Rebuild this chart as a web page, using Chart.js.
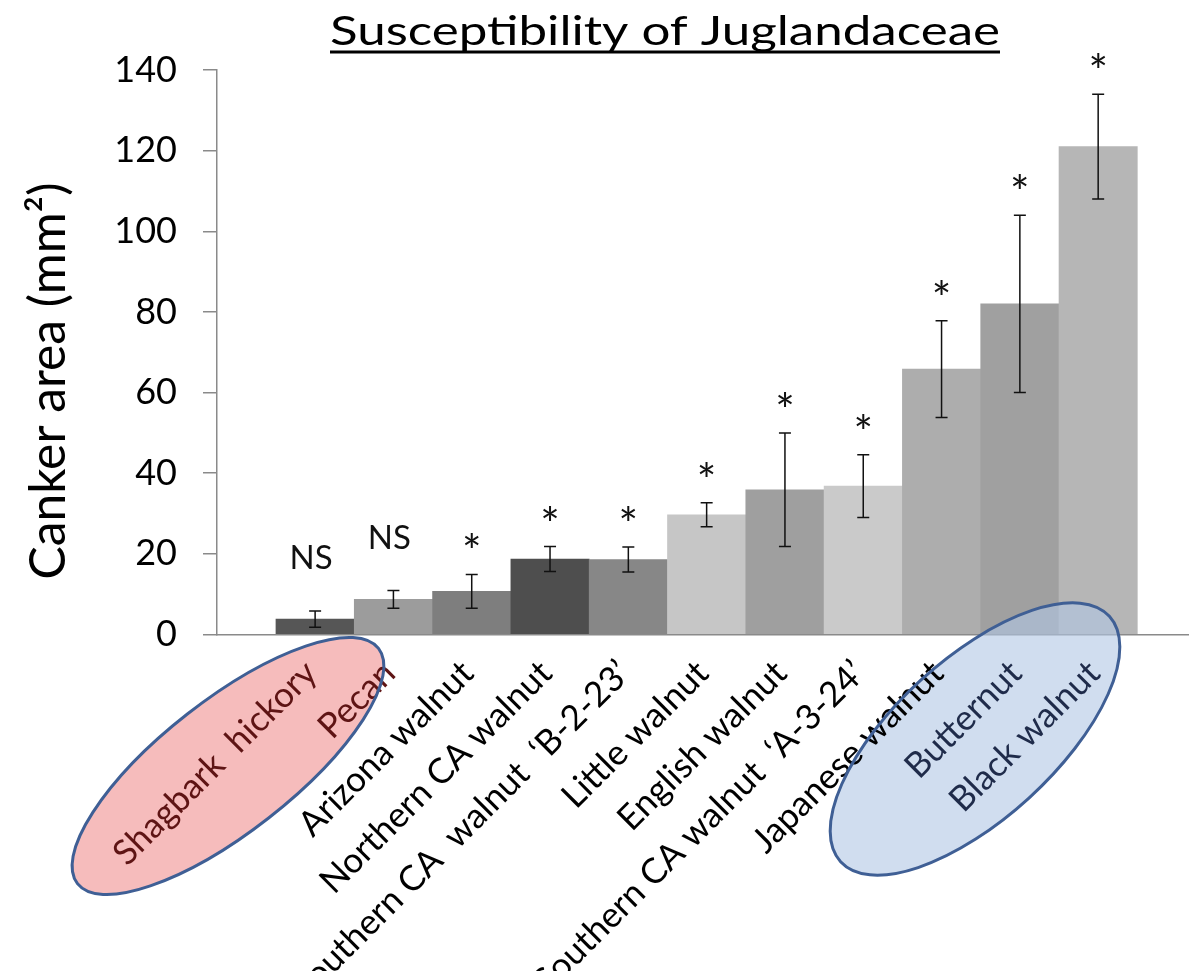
<!DOCTYPE html>
<html>
<head>
<meta charset="utf-8">
<title>Susceptibility of Juglandaceae</title>
<script src="https://cdn.jsdelivr.net/npm/chart.js@4.4.1/dist/chart.umd.min.js"></script>
<style>
  html, body { margin: 0; padding: 0; background: #fff; }
  #wrap { width: 1189px; height: 971px; position: relative; }
</style>
</head>
<body>
<div id="wrap"><canvas id="cankerChart"></canvas></div>
<script>
// species on the x axis
const species = ['Shagbark  hickory', 'Pecan', 'Arizona walnut', 'Northern CA walnut',
  'Southern CA  walnut  \u2018B-2-23\u2019', 'Little walnut', 'English walnut',
  'Southern CA walnut  \u2018A-3-24\u2019', 'Japanese walnut', 'Butternut', 'Black walnut'];
// mean canker area (mm2) and error bar half length
const cankerArea = [3.8, 8.7, 10.7, 18.7, 18.6, 29.7, 35.9, 36.8, 65.8, 82.0, 121.0];
const cankerErr = [2.0, 2.2, 4.2, 3.1, 3.1, 3.0, 14.1, 7.8, 12.0, 22.0, 13.0];
// significance marks above the bars
const signif = ['NS', 'NS', '*', '*', '*', '*', '*', '*', '*', '*', '*'];
// y axis tick values
const yTicks = [0, 20, 40, 60, 80, 100, 120, 140];

const barColors = ['#565656', '#9c9c9c', '#7e7e7e', '#4e4e4e', '#878787', '#c6c6c6',
  '#9f9f9f', '#cacaca', '#adadad', '#a0a0a0', '#b6b6b6'];
const labelColors = ['#5e1414', '#5e1414', '#000', '#000', '#000', '#000', '#000', '#000', '#000', '#1f2b4a', '#1f2b4a'];

// the two ovals drawn round groups of labels
const ovals = [
  {cx: 228, cy: 766, a: 191, b: 66, rot: -38, fill: '#f6bcbc'},
  {cx: 975, cy: 739, a: 182, b: 80, rot: -42.4, fill: 'rgba(176,198,229,0.6)'}
];

function ovalPath(ctx, o) {
  ctx.beginPath();
  ctx.ellipse(o.cx, o.cy, o.a, o.b, o.rot * Math.PI / 180, 0, Math.PI * 2);
}

const extras = {
  id: 'extras',
  afterDatasetsDraw(chart) {
    const {ctx, scales: {x, y}} = chart;
    ctx.save();
    //error bars + marks
    cankerArea.forEach((v, i) => {
      const px = x.getPixelForValue(i);
      const top = y.getPixelForValue(v + cankerErr[i]);
      const bot = y.getPixelForValue(v - cankerErr[i]);
      ctx.strokeStyle = '#111';
      ctx.lineWidth = 1.5;
      ctx.beginPath();
      ctx.moveTo(px, top); ctx.lineTo(px, bot);
      ctx.moveTo(px - 6, top); ctx.lineTo(px + 6, top);
      ctx.moveTo(px - 6, bot); ctx.lineTo(px + 6, bot);
      ctx.stroke();

      ctx.fillStyle = '#111';
      ctx.textAlign = 'center';
      ctx.textBaseline = 'alphabetic';
      if (signif[i] === 'NS') {
        ctx.font = '33px Lato';
        ctx.fillText(signif[i], px - 4, top - 42);
      } else {
        ctx.font = '46px Lato';
        const m = ctx.measureText(signif[i]);
        ctx.fillText(signif[i], px, top - 26 - m.actualBoundingBoxDescent);
      }
    });
    // oval fills, the x labels get drawn over these
    ovals.forEach(o => {
      ovalPath(ctx, o);
      ctx.fillStyle = o.fill;
      ctx.fill();
    });
    ctx.restore();
  },
  afterDraw(chart) {
    const ctx = chart.ctx;
    ctx.save();
    ovals.forEach(o => {
      ovalPath(ctx, o);
      ctx.strokeStyle = '#3f5f95';
      ctx.lineWidth = 3;
      ctx.stroke();
    });

    // title, underlined
    ctx.fillStyle = '#000';
    ctx.font = '40px Lato';
    ctx.textAlign = 'center';
    ctx.textBaseline = 'alphabetic';
    const title = 'Susceptibility of Juglandaceae';
    const tw = ctx.measureText(title).width;
    ctx.save();
    ctx.translate(665, 45);
    ctx.scale(670 / tw, 1);
    ctx.fillText(title, 0, 0);
    ctx.restore();
    ctx.fillRect(330, 50.5, 670, 3);

    // y axis title
    ctx.font = '50px Lato';
    const yt = 'Canker area (mm\u00b2)';
    const yw = ctx.measureText(yt).width;
    ctx.translate(65, 381);
    ctx.rotate(-Math.PI / 2);
    ctx.scale(397 / yw, 1);
    ctx.fillText(yt, 0, 0);
    ctx.restore();
  }
};

Chart.defaults.font.family = 'Lato';
Chart.defaults.color = '#000';

const ctx = document.getElementById('cankerChart');

new Chart(ctx, {
  type: 'bar',
  data: {
    datasets: [{
      label: 'Canker area',
      data: cankerArea.map((v, i) => ({x: i, y: v})),
      backgroundColor: barColors,
      borderWidth: 0,
      barPercentage: 1,
      categoryPercentage: 1
    }]
  },
  options: {
    responsive: true,
    maintainAspectRatio: false,
    animation: false,
    layout: {padding: {top: 70, left: 0, right: 0, bottom: 0}},
    plugins: {legend: {display: false}, tooltip: {enabled: false}},
    scales: {
      x: {
        type: 'linear',
        min: -1.253,
        max: 11.16,
        offset: false,
        afterBuildTicks: s => { s.ticks = species.map((c, i) => ({value: i})); },
        afterFit: s => { s.height = 336.5; },
        grid: {display: false},
        border: {display: true, color: '#8a8a8a', width: 1.5},
        ticks: {
          z: 1,
          autoSkip: false,
          minRotation: 45,
          maxRotation: 45,
          padding: 10,
          labelOffset: -4,
          font: {size: 35},
          color: c => labelColors[c.index],
          callback: v => species[v]
        }
      },
      y: {
        min: 0,
        max: 140,
        afterBuildTicks: s => { s.ticks = yTicks.map(v => ({value: v})); },
        afterFit: s => { s.width = 217; },
        grid: {drawOnChartArea: false, tickLength: 14, color: '#8a8a8a', lineWidth: 1.5},
        border: {display: true, color: '#8a8a8a', width: 1.5},
        ticks: {padding: 26, font: {size: 36}}
      }
    }
  },
  plugins: [extras]
});
</script>
</body>
</html>
